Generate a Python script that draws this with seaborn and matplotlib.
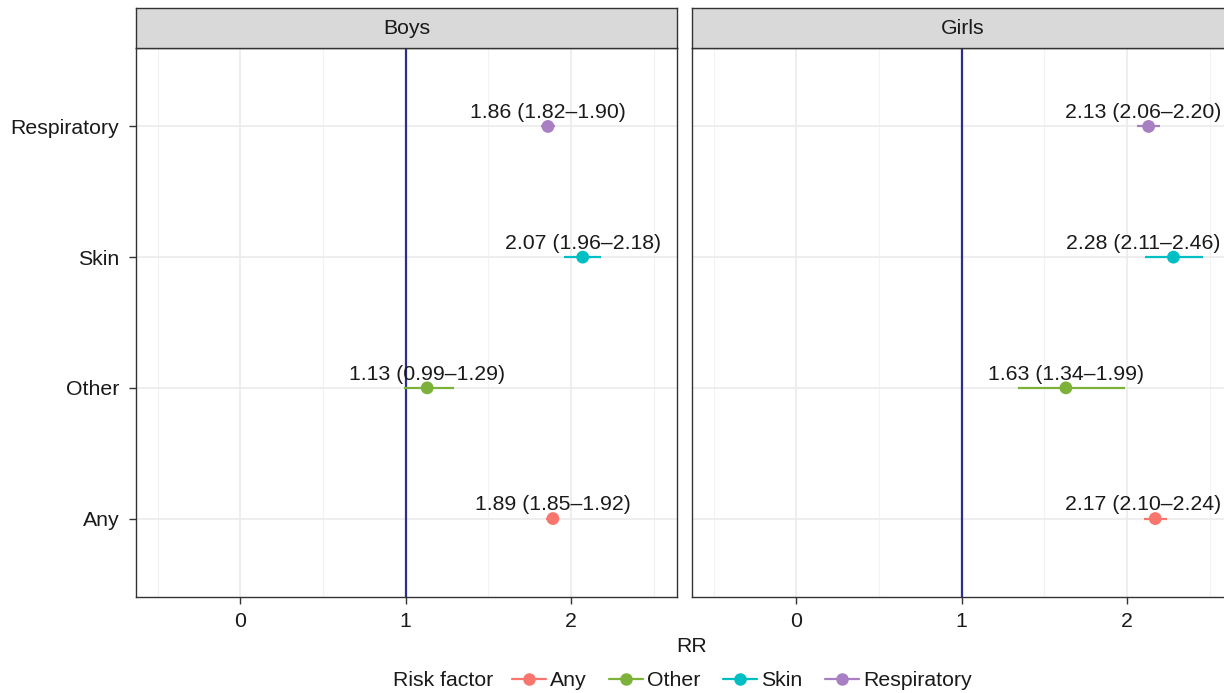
import numpy as np
import pandas as pd
import matplotlib
matplotlib.use('Agg')
import matplotlib.pyplot as plt
from matplotlib.lines import Line2D
import seaborn as sns

# data
factors = ['Any', 'Other', 'Skin', 'Respiratory']
boys_rr = [1.89, 1.13, 2.07, 1.86]
boys_lo = [1.85, 0.99, 1.96, 1.82]
boys_hi = [1.92, 1.29, 2.18, 1.90]
girls_rr = [2.17, 1.63, 2.28, 2.13]
girls_lo = [2.10, 1.34, 2.11, 2.06]
girls_hi = [2.24, 1.99, 2.46, 2.20]
panels = ['Boys', 'Girls']

colors = ['#F8766D', '#7DB23A', '#00BFC4', '#A97FC4']
palette = dict(zip(factors, colors))

sns.set_style('white')
plt.rcParams['font.family'] = ['Liberation Sans', 'DejaVu Sans']
FS = 15.3
TXT = '#1a1a1a'
BORDER = '#333333'

fig = plt.figure(figsize=(12.24, 6.93), dpi=100)
renderer = fig.canvas.get_renderer()

W = 541 / 1224
lefts = [136 / 1224, 692 / 1224]
bottom = (693 - 597) / 693
height = 549 / 693
strip_h = 40 / 693
right_limit = 1221  # labels kept inside the image

for i, sex in enumerate(panels):
    if sex == 'Boys':
        rr, lo, hi = boys_rr, boys_lo, boys_hi
    else:
        rr, lo, hi = girls_rr, girls_lo, girls_hi
    df = pd.DataFrame({'factor': factors, 'pos': np.arange(len(factors)),
                       'rr': rr, 'lo': lo, 'hi': hi})

    ax = fig.add_axes([lefts[i], bottom, W, height])
    ax.set_xlim(-0.63, 2.64)
    ax.set_ylim(-0.6, 3.6)

    # grid
    for x in [-0.5, 0.5, 1.5, 2.5]:
        ax.axvline(x, color='#F2F2F2', lw=0.8, zorder=0)
    for x in [0, 1, 2]:
        ax.axvline(x, color='#EBEBEB', lw=1.2, zorder=0)
    for y in df['pos']:
        ax.axhline(y, color='#EBEBEB', lw=1.2, zorder=0)

    ax.axvline(1, color='#2B2D8F', lw=1.6, zorder=1)

    for _, r in df.iterrows():
        ax.hlines(r['pos'], r['lo'], r['hi'], color=palette[r['factor']], lw=1.6, zorder=2)
        t = ax.text(r['rr'], r['pos'] + 0.105, f"{r['rr']:.2f} ({r['lo']:.2f}\u2013{r['hi']:.2f})",
                    ha='center', va='center', fontsize=FS, color=TXT, zorder=4)
        bb = t.get_window_extent(renderer)
        if bb.x1 > right_limit:
            t.set_ha('right')
            xr = ax.transData.inverted().transform((right_limit, 0))[0]
            t.set_x(xr)
    sns.scatterplot(data=df, x='rr', y='pos', hue='factor', palette=palette,
                    s=85, edgecolor='none', legend=False, ax=ax, zorder=3)

    ax.set_xticks([0, 1, 2])
    ax.set_xticklabels(['0', '1', '2'], fontsize=FS, color=TXT)
    ax.set_yticks(df['pos'])
    if i == 0:
        ax.set_yticklabels(factors, fontsize=FS, color=TXT)
        ax.tick_params(axis='y', length=5, width=1, color=BORDER, pad=7, left=True)
    else:
        ax.set_yticklabels([])
        ax.tick_params(axis='y', left=False)
    ax.tick_params(axis='x', length=5, width=1, color=BORDER, pad=6, bottom=True)
    ax.set_xlabel('')
    ax.set_ylabel('')
    for sp in ax.spines.values():
        sp.set_color(BORDER)
        sp.set_linewidth(1.0)

    sax = fig.add_axes([lefts[i], bottom + height, W, strip_h])
    sax.set_facecolor('#D9D9D9')
    sax.set_xticks([])
    sax.set_yticks([])
    for sp in sax.spines.values():
        sp.set_color(BORDER)
        sp.set_linewidth(1.0)
    sax.text(0.5, 0.5, sex, ha='center', va='center', fontsize=FS, color=TXT,
             transform=sax.transAxes)

fig.text(692 / 1224, 1 - 647 / 693, 'RR', ha='center', va='center', fontsize=FS, color=TXT)

handles = [Line2D([0], [0], color=c, lw=1.6, marker='o', markersize=8, label=f)
           for f, c in zip(factors, colors)]
fig.text(493 / 1224, 1 - 681 / 693, 'Risk factor', ha='right', va='center', fontsize=FS, color=TXT)
fig.legend(handles=handles, loc='center left', bbox_to_anchor=(512 / 1224, 1 - 681 / 693),
           ncol=4, frameon=False, fontsize=FS, handlelength=1.6, handletextpad=0.2,
           columnspacing=1.05, borderaxespad=0, borderpad=0, labelcolor=TXT)

fig.savefig('out.png', dpi=100)
